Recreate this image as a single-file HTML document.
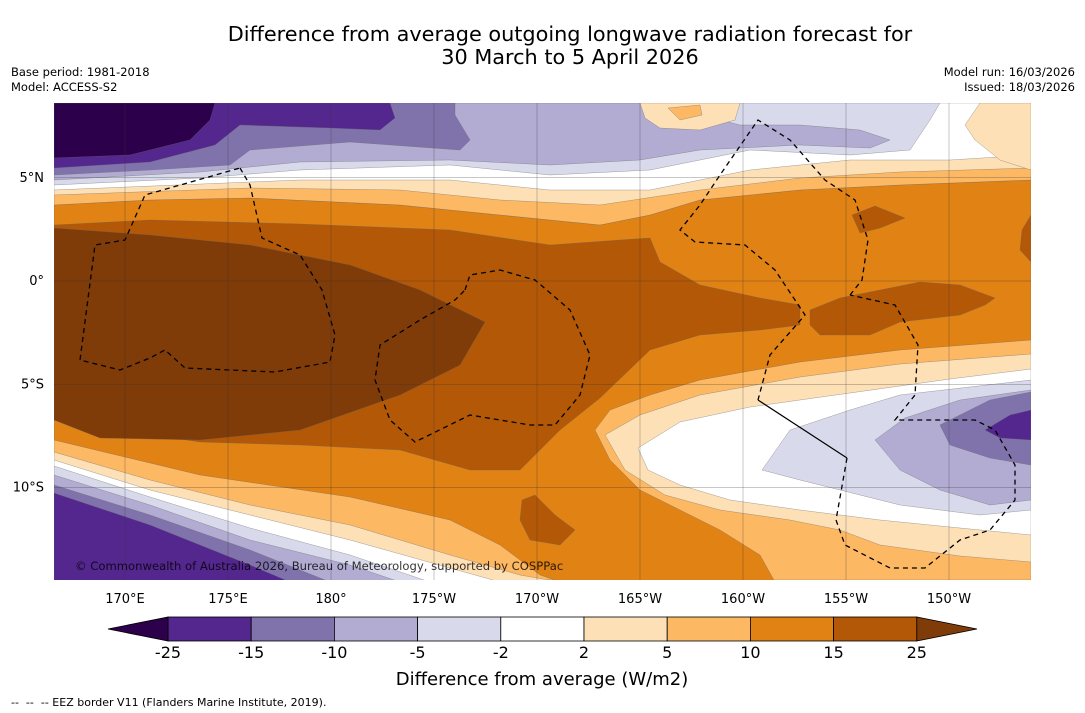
<!DOCTYPE html>
<html><head><meta charset="utf-8">
<style>
body{margin:0;background:#fff;width:1085px;height:713px;overflow:hidden;font-family:"DejaVu Sans",sans-serif;}
svg{display:block}
text{font-family:"DejaVu Sans","Liberation Sans",sans-serif;fill:#000}
</style></head><body>
<svg id="c" width="1085" height="713" xmlns="http://www.w3.org/2000/svg">
<text x="570" y="41" font-size="20.8" text-anchor="middle">Difference from average outgoing longwave radiation forecast for</text>
<text x="570" y="64" font-size="20.8" text-anchor="middle">30 March to 5 April 2026</text>
<text x="11" y="76" font-size="11.5">Base period: 1981-2018</text>
<text x="11" y="91" font-size="11.5">Model: ACCESS-S2</text>
<text x="1075" y="76" font-size="11.5" text-anchor="end">Model run: 16/03/2026</text>
<text x="1075" y="91" font-size="11.5" text-anchor="end">Issued: 18/03/2026</text>
<defs><clipPath id="mc"><rect x="54" y="103" width="977" height="477"/></clipPath></defs>
<g id="map" clip-path="url(#mc)"></g>
<g id="ax"></g>
<g id="cb"></g>
<text x="542" y="685" font-size="18" text-anchor="middle">Difference from average (W/m2)</text>
<text x="11" y="706" font-size="11">-- &#160;-- &#160;-- EEZ border V11 (Flanders Marine Institute, 2019).</text>
</svg>
<script>
const levels=[-25,-15,-10,-5,-2,2,5,10,15,25];
const bandColors=["#54278f","#8073ac","#b2abd2","#d8daeb","#ffffff","#fee0b6","#fdb863","#e08214","#b35806"];
const underColor="#2d004b", overColor="#7f3b08";
const lonTicks=[170,175,180,185,190,195,200,205,210];
const lonLabels=["170°E","175°E","180°","175°W","170°W","165°W","160°W","155°W","150°W"];
const latTicks=[5,0,-5,-10];
const latLabels=["5°N","0°","5°S","10°S"];
const NS="http://www.w3.org/2000/svg";
function X(lon){return 125+(lon-170)*20.6;}
function Y(lat){return 281-lat*20.65;}
function mk(tag,at,parent){const e=document.createElementNS(NS,tag);for(const k in at)e.setAttribute(k,at[k]);parent.appendChild(e);return e;}
const map=document.getElementById('map'),ax=document.getElementById('ax'),cb=document.getElementById('cb');
const contours=[
["#fdb863",[[54,103],[1031,103],[1031,580],[54,580]]],
["#fee0b6",[[54,452],[150,480],[250,505],[350,525],[450,555],[520,575],[560,582],[54,582]]],
["#ffffff",[[54,460],[150,490],[250,515],[350,540],[450,568],[500,582],[54,582]]],
["#d8daeb",[[54,466],[150,497],[250,528],[350,555],[430,582],[54,582]]],
["#b2abd2",[[54,475],[150,505],[250,540],[350,565],[400,582],[54,582]]],
["#8073ac",[[54,485],[150,515],[250,550],[330,582],[54,582]]],
["#54278f",[[54,493],[150,525],[250,565],[290,582],[54,582]]],
["#fee0b6",[[605,435],[640,415],[700,395],[800,377],[900,364],[1031,354],[1031,562],[960,556],[880,545],[840,530],[790,520],[720,510],[665,495],[625,470]]],
["#ffffff",[[638,448],[680,422],[750,407],[850,393],[950,379],[1031,369],[1031,535],[960,528],[880,520],[800,510],[730,500],[680,485],[648,470]]],
["#d8daeb",[[762,470],[790,430],[850,410],[900,395],[1031,380],[1031,510],[980,515],[900,505],[860,495],[800,480]]],
["#b2abd2",[[875,440],[905,418],[960,400],[1031,390],[1031,500],[990,505],[940,490],[900,470]]],
["#8073ac",[[940,425],[990,400],[1031,392],[1031,465],[990,458],[950,445]]],
["#54278f",[[985,430],[1010,415],[1031,410],[1031,440],[1000,438]]],
["#e08214",[[54,205],[150,200],[250,198],[400,205],[500,215],[600,225],[650,215],[700,200],[800,190],[900,185],[1031,180],[1031,340],[900,350],[800,362],[700,380],[650,395],[610,410],[595,430],[610,460],[640,490],[680,510],[720,530],[760,555],[775,582],[560,582],[540,575],[500,545],[450,520],[350,497],[200,475],[54,440]]],
["#fdb863",[[54,103],[1031,103],[1031,180],[900,185],[800,190],[700,200],[650,215],[600,225],[500,215],[400,205],[250,198],[150,200],[54,205]]],
["#fee0b6",[[54,103],[1031,103],[1031,168],[900,172],[800,178],[700,190],[600,205],[500,200],[400,190],[250,188],[54,195]]],
["#ffffff",[[54,103],[1031,103],[1031,155],[950,160],[850,160],[750,170],[650,190],[550,190],[450,180],[300,180],[54,190]]],
["#d8daeb",[[54,103],[940,103],[930,120],[910,150],[850,155],[750,150],[650,170],[550,175],[450,165],[300,170],[200,178],[54,185]]],
["#b2abd2",[[54,103],[650,103],[700,115],[740,125],[800,125],[860,130],[890,140],[870,148],[800,145],[700,150],[640,160],[550,165],[450,160],[300,162],[200,172],[54,180]]],
["#8073ac",[[54,103],[455,103],[455,115],[470,140],[460,150],[350,142],[250,150],[230,165],[150,170],[54,175]]],
["#54278f",[[54,103],[390,103],[395,118],[380,130],[330,128],[240,125],[215,145],[150,162],[54,168]]],
["#2d004b",[[54,103],[215,103],[210,120],[190,140],[130,155],[54,158]]],
["#fee0b6",[[980,103],[1031,103],[1031,170],[1000,160],[975,140],[965,125]]],
["#fee0b6",[[640,103],[740,103],[735,120],[700,130],[660,128],[645,118]]],
["#fdb863",[[668,108],[700,105],[702,115],[680,120]]],
["#b35806",[[54,225],[150,220],[300,224],[450,230],[550,245],[620,240],[650,238],[660,262],[700,285],[760,298],[800,305],[800,325],[760,330],[700,335],[650,350],[600,398],[560,430],[520,470],[470,470],[400,450],[300,445],[200,442],[54,420]]],
["#b35806",[[810,310],[840,298],[880,290],[920,282],[960,285],[995,298],[985,305],[960,315],[900,322],[870,335],[820,335],[810,325]]],
["#b35806",[[852,215],[875,206],[905,218],[880,228],[860,233]]],
["#b35806",[[1031,215],[1022,230],[1020,250],[1031,262]]],
["#b35806",[[522,500],[535,495],[555,515],[575,530],[560,545],[530,540],[520,520]]],
["#7f3b08",[[54,228],[150,235],[250,245],[350,265],[420,290],[485,322],[460,365],[400,395],[300,430],[200,440],[100,438],[54,420]]]
];
contours.forEach(c=>{
  const p=mk('polygon',{points:c[1].map(q=>q.join(',')).join(' '),fill:c[0],stroke:"#666",'stroke-width':0.3},map);
  
  
});
const eez=[
[[240,168],[250,185],[262,238],[300,255],[322,290],[335,335],[330,362],[275,372],[185,368],[165,350],[150,358],[120,370],[80,360],[95,245],[125,240],[145,195],[240,168]],
[[465,290],[470,275],[500,270],[535,280],[570,310],[590,355],[580,395],[555,425],[530,425],[470,415],[415,442],[390,420],[375,380],[380,345],[420,320],[455,300],[465,290]],
[[850,295],[862,280],[868,240],[855,200],[825,180],[790,140],[758,120],[720,175],[700,205],[680,230],[695,242],[745,245],[775,270],[805,315],[770,355],[758,400]],
[[847,458],[836,520],[845,545],[890,568],[925,568],[960,540],[990,530],[1015,500],[1015,465],[995,430],[975,420],[940,420],[895,420],[915,395],[918,345],[895,305],[850,295]]
];
eez.forEach(l=>{
  const p=mk('polyline',{points:l.map(q=>q.join(',')).join(' '),fill:'none',stroke:'#000','stroke-width':1.3,'stroke-dasharray':'5,4'},map);
  
  
});
const sl=mk('line',{x1:758,y1:400,x2:847,y2:458,stroke:'#000','stroke-width':1.2},map);


lonTicks.forEach((v,i)=>{
  const g=mk('line',{x1:X(v),x2:X(v),y1:103,y2:580,stroke:'#333','stroke-width':0.5,'stroke-opacity':0.55},map);
  
  
  const t=mk('text',{x:X(v),y:603,'font-size':13,'text-anchor':'middle'},ax);
  t.textContent=lonLabels[i];
  
  
});
latTicks.forEach((v,i)=>{
  const g=mk('line',{x1:54,x2:1031,y1:Y(v),y2:Y(v),stroke:'#333','stroke-width':0.5,'stroke-opacity':0.55},map);
  
  
  const t=mk('text',{x:44,y:Y(v)+4,'font-size':13,'text-anchor':'end'},ax);
  t.textContent=latLabels[i];
  
  
});
const cr=mk('text',{x:75,y:570,'font-size':11.6,fill:'#444','fill-opacity':0.8},ax);
cr.textContent="© Commonwealth of Australia 2026, Bureau of Meteorology, supported by COSPPac";


const cbx0=168,cbw=83.2,cby=617,cbh=24;
bandColors.forEach((c,i)=>{
  const r=mk('rect',{x:cbx0+i*cbw,y:cby,width:cbw,height:cbh,fill:c,stroke:'#000','stroke-width':0.8},cb);
  
  
});
const tl=mk('polygon',{points:`${cbx0},${cby} ${cbx0},${cby+cbh} 108,${cby+cbh/2}`,fill:underColor,stroke:'#000','stroke-width':0.8},cb);


const xe=cbx0+bandColors.length*cbw;
const tr=mk('polygon',{points:`${xe},${cby} ${xe},${cby+cbh} 977,${cby+cbh/2}`,fill:overColor,stroke:'#000','stroke-width':0.8},cb);


levels.forEach((v,i)=>{
  const t=mk('text',{x:cbx0+i*cbw,y:658,'font-size':16,'text-anchor':'middle'},cb);
  t.textContent=v;
  
  
});
</script>
</body></html>
